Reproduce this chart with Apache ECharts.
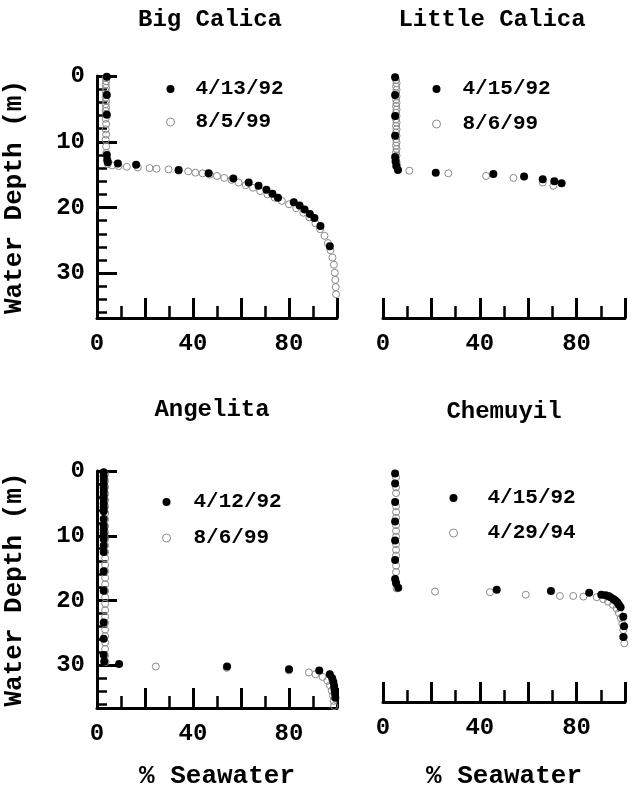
<!DOCTYPE html>
<html><head><meta charset="utf-8">
<script src="https://cdn.jsdelivr.net/npm/echarts@6/dist/echarts.min.js"></script>
<style>html,body{margin:0;padding:0;background:#fff}#c{width:634px;height:790px}</style>
</head><body><div id="c"></div><script>
// ---- data: [% seawater, water depth (m)] ----
const panelTitles = ['Big Calica', 'Little Calica', 'Angelita', 'Chemuyil'];
const seriesNames = [['4/13/92', '8/5/99'], ['4/15/92', '8/6/99'], ['4/12/92', '8/6/99'], ['4/15/92', '4/29/94']];
const xTickLabels = [0, 40, 80];
const yTickLabels = [0, 10, 20, 30];

const bigCalica92 = [[4.1,0.1],[4.1,2.9],[4.1,5.9],[4.1,12.0],[4.3,12.8],[4.5,13.1],[8.7,13.3],[16.3,13.5],[34,14.3],[46.5,14.8],[56.8,15.6],[63.2,16.2],[67.3,16.7],[70.6,17.3],[73.1,17.9],[75.4,18.5],[82.0,19.2],[84.4,19.7],[86.5,20.3],[88.7,21.0],[90.6,21.6],[93.1,22.8],[97.0,25.9]];
const bigCalica99 = [[3.6,0.3],[3.8,0.8],[3.6,1.3],[3.8,1.8],[3.6,2.3],[3.8,2.8],[3.6,3.3],[3.8,3.8],[3.6,4.3],[3.8,4.8],[3.6,5.3],[3.8,5.8],[3.6,6.5],[3.8,7.3],[3.6,8.1],[3.8,8.9],[3.6,9.7],[3.8,10.7],[3.9,11.7],[4.2,12.6],[4.5,13.4],[6.3,13.6],[9,13.7],[12.4,13.8],[17,13.9],[21.9,14.0],[24.8,14.1],[29.8,14.2],[34,14.4],[38,14.5],[41,14.7],[44,14.8],[47,15.0],[50,15.2],[53,15.5],[56,15.8],[59,16.2],[62,16.6],[65,17.0],[68,17.5],[71,18.0],[74,18.5],[77,19.0],[80,19.5],[83,20.1],[86,20.8],[88.5,21.5],[91,22.4],[93,23.3],[94.8,24.3],[96.2,25.4],[97.3,26.5],[98.1,27.6],[98.7,28.7],[99.1,29.9],[99.3,31.0],[99.5,32.1],[99.6,33.2]];

const littleCalica92 = [[5.0,0.2],[5.0,2.9],[5.0,6.1],[5.0,9.1],[5.0,12.3],[5.2,13.0],[5.5,13.7],[6.2,14.3],[21.8,14.7],[45.6,14.9],[58.3,15.3],[66,15.7],[70.8,16.0],[73.8,16.3]];
const littleCalica99 = [[5.4,0.6],[5.6,1.1],[5.4,1.6],[5.6,2.1],[5.4,2.6],[5.6,3.1],[5.4,3.6],[5.6,4.1],[5.4,4.6],[5.6,5.1],[5.4,5.6],[5.6,6.1],[5.4,6.6],[5.6,7.1],[5.4,7.6],[5.6,8.1],[5.4,8.6],[5.6,9.1],[5.4,9.6],[5.6,10.1],[5.4,10.6],[5.6,11.1],[5.4,11.6],[5.6,12.1],[5.4,12.6],[5.6,13.1],[5.8,13.6],[10.9,14.4],[27,14.8],[42.6,15.2],[53.9,15.5],[66,16.2],[70.4,16.7]];

const angelita92 = [[2.8,0.2],[2.8,0.8],[2.8,1.4],[2.8,2.0],[2.8,2.6],[2.8,3.2],[2.8,3.8],[2.8,4.4],[2.8,5.0],[2.8,5.6],[2.8,6.2],[2.8,7.4],[2.8,8.4],[2.8,9.0],[2.8,9.6],[2.8,10.5],[2.8,11.5],[2.8,12.5],[2.8,15.5],[2.8,18.5],[2.8,23.4],[2.8,25.9],[2.8,28.4],[3.0,29.4],[9.2,29.8],[54.2,30.2],[80,30.6],[92.6,30.8],[97,31.4],[98,32.0],[98.5,32.6],[98.8,33.2],[99,33.8],[99.2,34.4],[99.3,35.0]];
const angelita99 = [[3.4,0.5],[3.4,1.5],[3.4,2.5],[3.4,3.5],[3.4,4.5],[3.4,5.5],[3.4,6.5],[3.4,7.5],[3.4,8.5],[3.4,9.5],[3.4,10.5],[3.4,11.5],[3.4,12.5],[3.4,13.5],[3.4,14.5],[3.4,15.5],[3.4,16.5],[3.4,17.5],[3.4,18.5],[3.4,19.5],[3.4,20.5],[3.4,21.5],[3.4,22.5],[3.4,23.5],[3.4,24.5],[3.4,25.5],[3.4,26.5],[3.4,27.5],[3.4,28.5],[3.6,29.5],[24.5,30.2],[54,30.4],[80,30.8],[88.3,31.1],[91,31.4],[94,31.8],[96,32.4],[97,33.1],[97.8,33.9],[98.3,34.7],[98.6,35.5],[98.8,36.3]];

const chemuyil92 = [[5.0,0.4],[5.0,2.0],[5.0,4.9],[5.0,8.0],[5.0,11.0],[5.0,14.1],[5.0,17.1],[5.4,17.8],[6.3,18.5],[47,18.8],[69.4,19.0],[85.2,19.3],[90.2,19.6],[92,19.7],[93.1,19.8],[94,20.0],[95.2,20.3],[96,20.5],[96.8,20.8],[97.5,21.2],[98.2,21.6],[99.3,23.1],[99.6,24.6],[99.3,26.3]];
const chemuyil94 = [[5.4,1.0],[5.4,2.6],[5.4,3.5],[5.4,5.6],[5.4,6.5],[5.4,7.4],[5.4,8.6],[5.4,9.5],[5.4,10.4],[5.4,11.6],[5.4,12.5],[5.4,13.4],[5.4,15.0],[5.4,16.0],[5.4,17.5],[5.6,18.6],[21.5,19.1],[44.2,19.2],[59,19.6],[73.1,19.8],[78.6,19.8],[82.8,19.9],[88.3,20.0],[91,20.3],[93,20.7],[95,21.2],[96.5,21.8],[97.5,22.5],[98.3,23.3],[98.9,24.2],[99.3,25.2],[99.6,26.3],[99.7,27.3]];

const panelData = [[bigCalica92, bigCalica99], [littleCalica92, littleCalica99], [angelita92, angelita99], [chemuyil92, chemuyil94]];

// ---- layout / style ----
const FONT = '"Liberation Mono", "Courier New", monospace';
const grids = [
  {left: 95, top: 76, width: 242, height: 242},
  {left: 383, top: 76, width: 242, height: 242},
  {left: 95, top: 471, width: 242, height: 241},
  {left: 383, top: 471, width: 242, height: 241}
];
const yMax = [36.8, 36.8, 36.6, 36.6];
const titlePos = [[210, 20], [492, 20], [212, 410], [504, 412]];
const legendPos = [
  {left: 166, top: 78.5, gap: 12, pad: 16},
  {left: 432, top: 78.5, gap: 14, pad: 17},
  {left: 162, top: 491.5, gap: 15, pad: 18},
  {left: 449, top: 487.5, gap: 14, pad: 25}
];
const txt = (size) => ({fontFamily: FONT, fontWeight: 'bold', fontSize: size, color: '#000'});

const xAxis = [], yAxis = [], series = [], legend = [];
grids.forEach((g, i) => {
  xAxis.push({
    gridIndex: i, type: 'value', min: 0, max: 100, interval: 20, position: 'bottom',
    axisLine: {onZero: false, lineStyle: {color: '#000', width: 3}},
    axisTick: {inside: true, length: 20, lineStyle: {color: '#000', width: 3}},
    minorTick: {show: true, splitNumber: 2, length: 12, lineStyle: {color: '#000', width: 2.5}},
    splitLine: {show: false}, minorSplitLine: {show: false},
    axisLabel: Object.assign({margin: 14, formatter: v => xTickLabels.includes(v) ? String(v) : ''}, txt(24)),
    name: i >= 2 ? '% Seawater' : '', nameLocation: 'middle', nameGap: i === 2 ? 55 : 61,
    nameTextStyle: txt(26)
  });
  const left = (i % 2 === 0);
  const yIdx = yAxis.length;
  yAxis.push({
    gridIndex: i, type: 'value', inverse: true, min: 0, max: yMax[i], interval: 10, position: 'left',
    show: left,
    axisLine: {show: left, onZero: false, lineStyle: {color: '#000', width: 3}},
    axisTick: {show: left, inside: true, length: 20, lineStyle: {color: '#000', width: 3}},
    splitLine: {show: false},
    axisLabel: Object.assign({show: left, margin: 12, formatter: v => yTickLabels.includes(v) ? String(v) : ''}, txt(24)),
    name: left ? 'Water Depth (m)' : '', nameLocation: 'middle', nameGap: 70, nameRotate: 90,
    nameTextStyle: txt(26)
  });
  if (left) {
    yAxis.push({
      gridIndex: i, type: 'value', inverse: true, min: 0, max: yMax[i], interval: 2, position: 'left',
      axisLine: {show: false, onZero: false},
      axisTick: {show: true, inside: true, length: 10, lineStyle: {color: '#000', width: 2.5}},
      axisLabel: {show: false}, splitLine: {show: false}
    });
  }
  const [filled, open] = panelData[i];
  series.push({
    type: 'scatter', name: seriesNames[i][0], xAxisIndex: i, yAxisIndex: yIdx, z: 4,
    symbol: 'circle', symbolSize: 8, itemStyle: {color: '#000', opacity: 1}, data: filled
  });
  series.push({
    type: 'scatter', name: seriesNames[i][1], xAxisIndex: i, yAxisIndex: yIdx, z: 3,
    symbol: 'circle', symbolSize: 7,
    itemStyle: {color: 'rgba(255,255,255,0)', borderColor: '#8a8a8a', borderWidth: 1, opacity: 1}, data: open
  });
  const lp = legendPos[i];
  legend.push({
    data: [
      {name: seriesNames[i][0], itemStyle: {color: '#000', borderWidth: 0, opacity: 1}},
      {name: seriesNames[i][1], itemStyle: {color: 'rgba(255,255,255,0)', borderColor: '#8a8a8a', borderWidth: 1, opacity: 1}}
    ],
    orient: 'vertical', left: lp.left, top: lp.top, itemGap: lp.gap,
    itemWidth: 8, itemHeight: 8, selectedMode: false, padding: 0,
    textStyle: Object.assign({padding: [0, 0, 0, lp.pad]}, txt(21))
  });
});

const graphic = panelTitles.map((t, i) => ({
  type: 'text', x: titlePos[i][0], y: titlePos[i][1],
  style: {text: t, font: 'bold 24px ' + FONT, fill: '#000', align: 'center', verticalAlign: 'middle', textAlign: 'center', textVerticalAlign: 'middle'}
}));

const chart = echarts.init(document.getElementById('c'), null, {renderer: 'canvas'});
chart.setOption({
  animation: false, backgroundColor: '#fff',
  grid: grids, xAxis, yAxis, series, legend, graphic
});
</script></body></html>
